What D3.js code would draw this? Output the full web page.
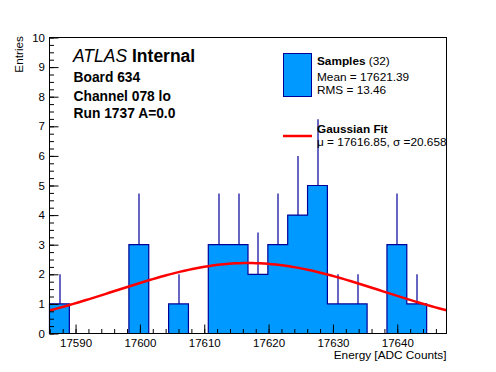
<!DOCTYPE html>
<html>
<head>
<meta charset="utf-8">
<script src="https://cdn.jsdelivr.net/npm/d3@7"></script>
<style>
  body { margin: 0; background: #fff; }
  svg { display: block; font-family: "Liberation Sans", Arial, Helvetica, sans-serif; }
  .tick text { font-size: 11.5px; fill: #000; }
</style>
</head>
<body>
<svg id="grafico"></svg>
<script>
// histogram content, 20 bins over the x range
const binCounts = [1, 0, 0, 0, 3, 0, 1, 0, 3, 3, 2, 3, 4, 5, 1, 1, 0, 3, 1, 0];
const xRange = [17585.95, 17647.65];
const yRange = [0, 10];
const xTicks = [17590, 17600, 17610, 17620, 17630, 17640];
const yTicks = [0, 1, 2, 3, 4, 5, 6, 7, 8, 9, 10];

// gaussian fit result
const fitConstant = 2.38;
const fitMean = 17616.85;
const fitSigma = 20.658;

const infoLines = ['Board 634', 'Channel 078 lo', 'Run 1737 A=0.0'];
const statsLines = ['Mean = 17621.39', 'RMS = 13.46'];
const fitLine = '\u03bc = 17616.85, \u03c3 =20.658';
const nEntries = 32;

const largura = 496, altura = 372;
const margem = { esquerda: 49.5, direita: 49.5, superior: 37.5, inferior: 38.5 };
const w = largura - margem.esquerda - margem.direita;
const h = altura - margem.superior - margem.inferior;

const azul = '#0099ff', azulEscuro = '#000099', vermelho = '#ff0000';

const svg = d3.select('#grafico')
    .attr('width', largura)
    .attr('height', altura);

const plot = svg.append('g')
    .attr('transform', 'translate(' + margem.esquerda + ',' + margem.superior + ')');

const x = d3.scaleLinear().domain(xRange).range([0, w]);
const y = d3.scaleLinear().domain(yRange).range([h, 0]);

const binWidth = (xRange[1] - xRange[0]) / binCounts.length;
const bins = binCounts.map((c, i) => ({
    x0: xRange[0] + i * binWidth,
    x1: xRange[0] + (i + 1) * binWidth,
    n: c
}));

// histogram drawn as one step outline
const steps = bins.map(b => [b.x0, b.n]).concat([[xRange[1], 0]]);
plot.append('path')
    .datum(steps)
    .attr('d', d3.area()
        .x(d => x(d[0]))
        .y0(y(0))
        .y1(d => y(d[1]))
        .curve(d3.curveStepAfter))
    .attr('fill', azul)
    .attr('stroke', azulEscuro)
    .attr('stroke-width', 1.2);

// error bars (upper half, lower half hidden by the fill)
plot.selectAll('.erro')
    .data(bins.filter(b => b.n > 0))
    .enter()
    .append('line')
    .classed('erro', true)
    .attr('x1', d => Math.round(x((d.x0 + d.x1) / 2)) + 0.5)
    .attr('x2', d => Math.round(x((d.x0 + d.x1) / 2)) + 0.5)
    .attr('y1', d => y(d.n))
    .attr('y2', d => y(d.n + Math.sqrt(d.n)))
    .attr('stroke', azulEscuro)
    .attr('stroke-width', 1.2);

// fitted gaussian, 100 points like TF1
const gauss = v => fitConstant * Math.exp(-0.5 * Math.pow((v - fitMean) / fitSigma, 2));
const fitPts = d3.range(101).map(i => {
    const v = xRange[0] + i * (xRange[1] - xRange[0]) / 100;
    return [v, gauss(v)];
});
plot.append('path')
    .datum(fitPts)
    .attr('d', d3.line().x(d => x(d[0])).y(d => y(d[1])))
    .attr('fill', 'none')
    .attr('stroke', vermelho)
    .attr('stroke-width', 2.5);

// axes, ROOT style: ticks inside the frame
plot.append('g')
    .attr('transform', 'translate(0,' + h + ')')
    .call(d3.axisBottom(x).tickValues(xTicks).tickSize(-9).tickPadding(5).tickFormat(d3.format('d')));
plot.append('g')
    .attr('transform', 'translate(0,' + h + ')')
    .call(d3.axisBottom(x).tickValues(d3.range(17586, 17648, 2)).tickSize(-4.5).tickFormat(''));

plot.append('g')
    .call(d3.axisLeft(y).tickValues(yTicks).tickSize(-9).tickPadding(4.5).tickFormat(d3.format('d')));
plot.append('g')
    .call(d3.axisLeft(y).tickValues(d3.range(0, 10.01, 0.25)).tickSize(-4.5).tickFormat(''));

plot.selectAll('.domain').remove();
plot.selectAll('.tick line').attr('stroke', '#000');

plot.append('rect')
    .attr('x', 0)
    .attr('y', 0)
    .attr('width', w)
    .attr('height', h)
    .attr('fill', 'none')
    .attr('stroke', '#000')
    .attr('stroke-width', 1);

// axis titles
svg.append('text')
    .attr('x', margem.esquerda + w)
    .attr('y', 359)
    .attr('text-anchor', 'end')
    .style('font-size', '11.8px')
    .text('Energy [ADC Counts]');

svg.append('text')
    .attr('transform', 'translate(23,36) rotate(-90)')
    .attr('text-anchor', 'end')
    .style('font-size', '11.8px')
    .text('Entries');

// ATLAS label block
const atlas = svg.append('text')
    .attr('x', 73)
    .attr('y', 62)
    .style('font-size', '17.5px');
atlas.append('tspan').style('font-style', 'italic').text('ATLAS');
atlas.append('tspan').style('font-weight', 'bold').text(' Internal');

svg.selectAll('.info')
    .data(infoLines)
    .enter()
    .append('text')
    .classed('info', true)
    .attr('x', 73.5)
    .attr('y', (d, i) => [81.5, 101, 118][i])
    .style('font-size', '13.8px')
    .style('font-weight', 'bold')
    .text(d => d);

// legend
const leg = svg.append('g');
leg.append('rect')
    .attr('x', 283.5)
    .attr('y', 53.5)
    .attr('width', 28)
    .attr('height', 43)
    .attr('fill', azul)
    .attr('stroke', azulEscuro)
    .attr('stroke-width', 1);

const tAmostras = leg.append('text')
    .attr('x', 317)
    .attr('y', 65)
    .style('font-size', '11.8px');
tAmostras.append('tspan').style('font-weight', 'bold').text('Samples');
tAmostras.append('tspan').text(' (' + nEntries + ')');

leg.selectAll('.stat')
    .data(statsLines)
    .enter()
    .append('text')
    .classed('stat', true)
    .attr('x', 317)
    .attr('y', (d, i) => 81 + i * 13)
    .style('font-size', '11.8px')
    .text(d => d);

leg.append('line')
    .attr('x1', 283)
    .attr('x2', 312)
    .attr('y1', 136)
    .attr('y2', 136)
    .attr('stroke', vermelho)
    .attr('stroke-width', 2.5);

leg.append('text')
    .attr('x', 317)
    .attr('y', 133)
    .style('font-size', '11.8px')
    .style('font-weight', 'bold')
    .text('Gaussian Fit');

leg.append('text')
    .attr('x', 317)
    .attr('y', 146)
    .style('font-size', '11.8px')
    .text(fitLine);
</script>
</body>
</html>
